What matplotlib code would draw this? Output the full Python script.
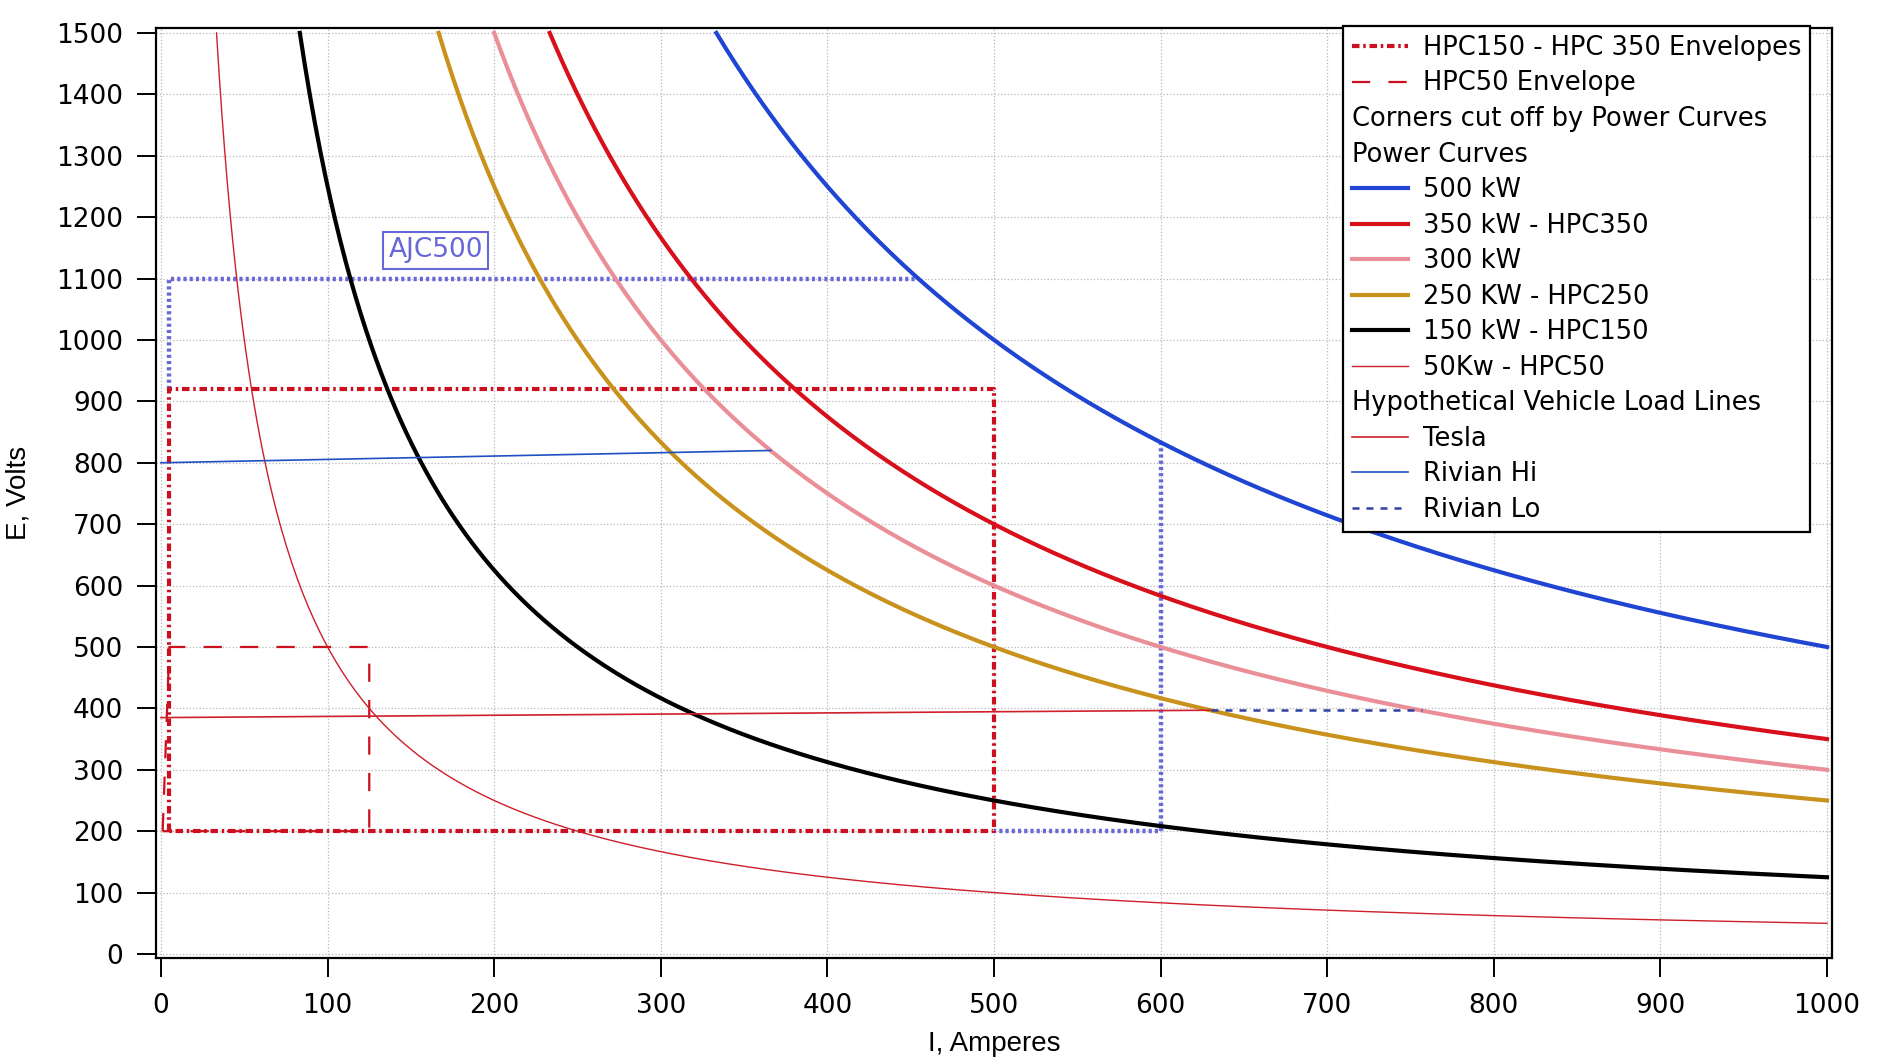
import numpy as np
import matplotlib.pyplot as plt
from matplotlib.lines import Line2D

# power curves (kW) -> E = P / I
power_kw = [500, 350, 300, 250, 125, 50]
power_labels = ["500 kW", "350 kW - HPC350", "300 kW", "250 KW - HPC250",
                "150 kW - HPC150", "50Kw - HPC50"]
power_colors = ["#1f45d2", "#d8101c", "#ea8f98", "#c8921c", "#000000", "#cc1f2a"]
power_widths = [3.0, 3.0, 3.0, 3.0, 3.0, 1.0]

# charger envelopes (amps, volts)
hpc150_350_amps = [5, 5, 500, 500, 5]
hpc150_350_volts = [200, 920, 920, 200, 200]
hpc50_amps = [1, 5, 125, 125, 1]
hpc50_volts = [200, 500, 500, 200, 200]
ajc500_top_amps = [5, 5, 454.5]
ajc500_top_volts = [920, 1100, 1100]
ajc500_side_amps = [600, 600, 500]
ajc500_side_volts = [833, 200, 200]

# hypothetical vehicle load lines
tesla_amps = [0, 630]
tesla_volts = [385, 397]
rivian_hi_amps = [0, 366]
rivian_hi_volts = [800, 820]
rivian_lo_amps = [630, 757]
rivian_lo_volts = [397, 397]

x_ticks = list(range(0, 1001, 100))
y_ticks = list(range(0, 1501, 100))

env_red = "#cc1020"
ajc_blue = "#6767d8"

fig = plt.figure(figsize=(19, 10.6), dpi=100)
ax = fig.add_axes([156/1900, 1 - 958/1060, (1832-156)/1900, (958-28)/1060])

# envelopes
ax.plot(ajc500_top_amps, ajc500_top_volts, color=ajc_blue, lw=3.2,
        dashes=(0.7, 0.7), zorder=2)
ax.plot(ajc500_side_amps, ajc500_side_volts, color=ajc_blue, lw=3.2,
        dashes=(0.7, 0.7), zorder=2)
l_hpc150, = ax.plot(hpc150_350_amps, hpc150_350_volts, color=env_red, lw=3.0,
                    dashes=(1.8, 0.9, 0.6, 0.9), zorder=2.5,
                    label="HPC150 - HPC 350 Envelopes")
l_hpc50, = ax.plot(hpc50_amps, hpc50_volts, color=env_red, lw=1.6,
                   dashes=(8.2, 8.2), zorder=2.4, label="HPC50 Envelope")

# power curves
curve_lines = []
for kw, lab, col, lw in zip(power_kw, power_labels, power_colors, power_widths):
    amps = np.linspace(kw * 1000 / 1500, 1000, 600)
    ln, = ax.plot(amps, kw * 1000 / amps, color=col, lw=lw, label=lab, zorder=3)
    curve_lines.append(ln)

# load lines
l_tesla, = ax.plot(tesla_amps, tesla_volts, color="#d0202c", lw=1.2, zorder=4, label="Tesla")
l_rhi, = ax.plot(rivian_hi_amps, rivian_hi_volts, color="#2050c0", lw=1.2, zorder=4,
                 label="Rivian Hi")
l_rlo, = ax.plot(rivian_lo_amps, rivian_lo_volts, color="#3040a0", lw=1.8,
                 dashes=(2.8, 2.8), zorder=4, label="Rivian Lo")

ax.text(165, 1146, "AJC500", color=ajc_blue, fontsize=19, ha="center", va="center",
        bbox=dict(boxstyle="square,pad=0.2", fc="white", ec=ajc_blue, lw=1.5), zorder=5)

ax.set_xlim(-3, 1003)
ax.set_ylim(-6.5, 1508)
ax.set_xticks(x_ticks)
ax.set_yticks(y_ticks)
ax.tick_params(direction="out", length=13.5, width=1.4, labelsize=19, pad=10)
ax.tick_params(axis="x", pad=12)
for s in ax.spines.values():
    s.set_linewidth(1.6)
ax.grid(True, color="#b8b8b8", linestyle=":", linewidth=0.9, zorder=0)
ax.set_axisbelow(True)

ax.set_xlabel("I, Amperes", fontsize=20, family="Liberation Sans", labelpad=8)
ax.set_ylabel("E, Volts", fontsize=20, family="Liberation Sans", labelpad=18)

def header(text):
    return Line2D([], [], linestyle="none", label=text)

handles = [l_hpc150, l_hpc50,
           header("Corners cut off by Power Curves"), header("Power Curves")]
handles += curve_lines
handles += [header("Hypothetical Vehicle Load Lines"), l_tesla, l_rhi, l_rlo]
header_rows = [2, 3, 10]

leg = ax.legend(handles=handles, loc="upper right",
                bbox_to_anchor=(1810/1900, 1 - 26/1060), bbox_transform=fig.transFigure,
                fontsize=18.5, frameon=True, fancybox=False, framealpha=1,
                edgecolor="black", borderpad=0.35, labelspacing=0.37,
                handlelength=2.2, handletextpad=0.55, borderaxespad=0)
leg.get_frame().set_linewidth(1.6)

# headers start at the legend's left edge (no handle space)
rows = leg._legend_handle_box.get_children()[0].get_children()
for i in header_rows:
    da = rows[i].get_children()[0]
    da.width = 0
    rows[i].sep = 0

fig.savefig("out.png", dpi=100)
